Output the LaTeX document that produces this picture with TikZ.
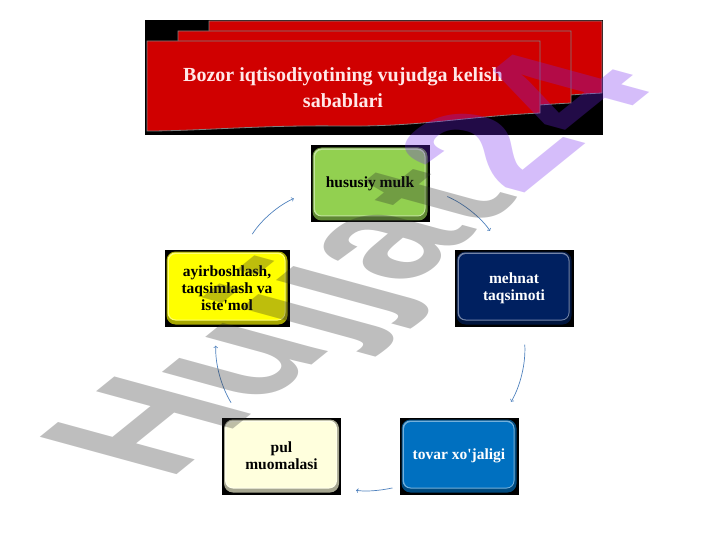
\documentclass[tikz,border=0pt]{standalone}
\usepackage{fontspec}
\setmainfont{Liberation Serif}
\newfontfamily\markfont{Liberation Sans}
\definecolor{bannerred}{RGB}{208, 0, 0}
\definecolor{titlepink}{RGB}{255, 232, 232}
\definecolor{cyclegreen}{RGB}{146, 208, 80}
\definecolor{cyclenavy}{RGB}{0, 32, 96}
\definecolor{cycleblue}{RGB}{0, 112, 192}
\definecolor{cycleyellow}{RGB}{255, 255, 0}
\definecolor{cyclecream}{RGB}{255, 255, 221}
\definecolor{arrowblue}{RGB}{79, 129, 189}
\definecolor{markgray}{RGB}{40, 40, 40}
\definecolor{markviolet}{RGB}{115, 38, 238}
\usetikzlibrary{arrows, positioning}
\tikzset{
  cyclebox/.style={fill=black, minimum width=119pt, minimum height=77pt, inner sep=2pt,
    align=center, font=\bfseries\fontsize{15.5}{17}\selectfont,
    path picture={
      \fill[#1!65!black, rounded corners=9pt]
        ([shift={(2pt,2pt)}]path picture bounding box.south west) rectangle
        ([shift={(-2pt,-2pt)}]path picture bounding box.north east);
      \fill[#1!55!white, rounded corners=8pt]
        ([shift={(3pt,6pt)}]path picture bounding box.south west) rectangle
        ([shift={(-4pt,-3pt)}]path picture bounding box.north east);
      \fill[#1, rounded corners=7pt]
        ([shift={(4.5pt,7pt)}]path picture bounding box.south west) rectangle
        ([shift={(-5pt,-4.5pt)}]path picture bounding box.north east);
    }},
  cyclearrow/.style={->, arrowblue, line width=0.7pt}
}

\begin{document}
\begin{tikzpicture}[x=1pt, y=1pt]
  \useasboundingbox (0,0) rectangle (720,-540);

  % Title banner
  \fill[black] (145,-20) rectangle (603,-135);
  \foreach \s in {2,1,0}
    \fill[bannerred, draw=gray, line width=0.8pt, shift={(31*\s,10*\s)}]
      (147,-41) -- (540,-41) -- (540,-113)
      .. controls (460,-117) and (420,-127) .. (340,-126)
      .. controls (260,-125) and (200,-131) .. (147,-131) -- cycle;
  \node[font=\bfseries\fontsize{20}{26}\selectfont, text=titlepink, align=center] (title) at (343,-88)
    {Bozor iqtisodiyotining vujudga kelish\\sabablari};

  % Cycle nodes
  \node[cyclebox=cyclegreen] (mulk) at (370,-184) {hususiy mulk};
  \node[cyclebox=cyclenavy, text=white] (mehnat) at (514,-288) {mehnat\\taqsimoti};
  \node[cyclebox=cycleblue, text=white] (tovar) at (459,-456) {tovar xo\textquotesingle jaligi};
  \node[cyclebox=cyclecream] (pul) at (281.5,-456) {pul\\muomalasi};
  \node[cyclebox=cycleyellow, minimum width=125pt] (ayir) at (227,-288) {ayirboshlash,\\taqsimlash va\\iste\textquotesingle mol};

  % Arrows
  \draw[cyclearrow, shorten <=18pt, shorten >=18pt] (ayir.68) to[bend left=17] (mulk.187);
  \draw[cyclearrow, shorten <=19pt, shorten >=22pt] (mulk.-5) to[bend left=17] (mehnat.107);
  \draw[cyclearrow, shorten <=18pt, shorten >=18pt] (mehnat.-76) to[bend left=17] (tovar.42);
  \draw[cyclearrow, shorten <=7pt, shorten >=15pt] (tovar.207) to[bend left=11] (pul.-28);
  \draw[cyclearrow, shorten <=17pt, shorten >=19pt] (pul.137) to[bend left=17] (ayir.255);

  % Watermark
  \begin{scope}[shift={(415,-282)}, rotate=3, yscale=0.49]
    \node[rotate=56, transform shape, anchor=base, inner sep=0pt, text opacity=0.3,
      font=\markfont\bfseries\fontsize{236}{236}\selectfont] (mark) at (0,0)
      {\textcolor{markgray}{Hujjat}\textcolor{markviolet}{24}};
  \end{scope}
\end{tikzpicture}
\end{document}
